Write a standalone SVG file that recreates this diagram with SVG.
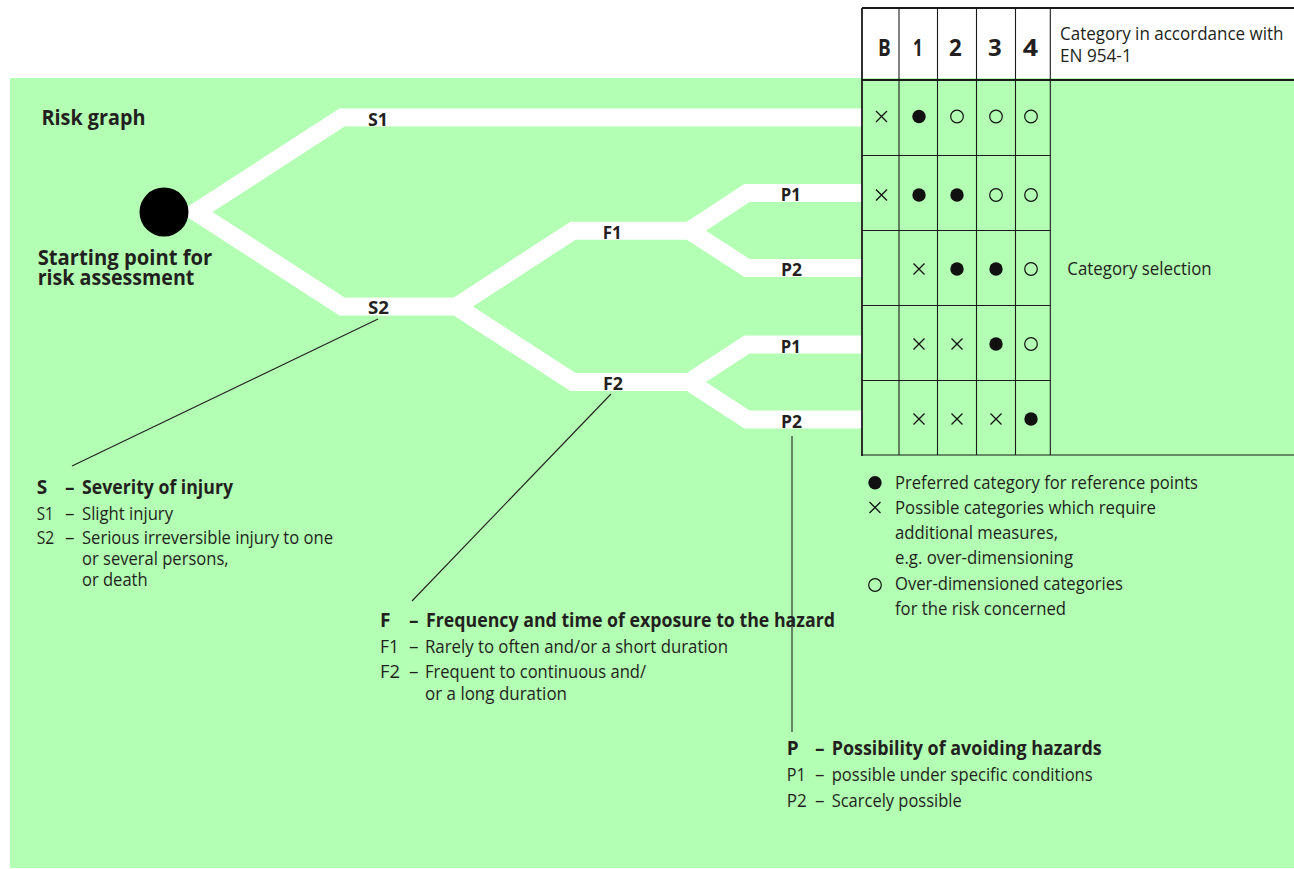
<svg xmlns="http://www.w3.org/2000/svg" width="1294" height="869" viewBox="0 0 1294 869">
<style>
text{font-family:"Open Sans","Noto Sans","Liberation Sans",sans-serif;fill:#231f20}
.b{font-weight:bold}
.t{font-size:19px}
.lbl{font-size:17.5px;font-weight:bold}
.h{font-size:22px;font-weight:bold}
.hd{font-size:23.5px;font-weight:bold;text-anchor:middle}
.band{fill:none;stroke:#fff;stroke-width:18;stroke-linejoin:miter;stroke-miterlimit:4}
.lead{fill:none;stroke:#231f20;stroke-width:1.1}
.grid{stroke:#1a1a1a;stroke-width:1.1;fill:none}
.outer{stroke:#1a1a1a;stroke-width:1.8;fill:none}
</style>
<defs>
<circle id="dot" r="6.7" fill="#111"/>
<circle id="ring" r="6.3" fill="none" stroke="#111" stroke-width="1.2"/>
<path id="x" d="M-5.5,-5.5L5.5,5.5M5.5,-5.5L-5.5,5.5" stroke="#111" stroke-width="1.3" fill="none"/>
</defs>
<rect width="1294" height="869" fill="#fff"/>
<rect x="10" y="78" width="1284" height="790" fill="#b3ffb3"/>

<g id="connectors">
<path class="band" d="M862,117.5 L342,117.5 L196,212 L342,306.5 L456.5,306.5"/>
<path class="band" d="M689.5,230.7 L573,230.7 L456.5,306.5 L573,382 L689.5,382"/>
<path class="band" d="M862,193 L747,193 L689.5,230.7 L747,268 L862,268"/>
<path class="band" d="M862,344.5 L747,344.5 L689.5,382 L747,419.5 L862,419.5"/>
<line class="lead" x1="378" y1="319" x2="72" y2="466"/>
<line class="lead" x1="611" y1="394" x2="412" y2="601"/>
<line class="lead" x1="792" y1="436" x2="792" y2="732"/>
</g>

<g id="title">
<text class="h" x="41.5" y="125" textLength="104" lengthAdjust="spacingAndGlyphs">Risk graph</text>
</g>

<g id="start">
<circle cx="164" cy="212" r="24.5" fill="#000"/>
<text class="h" x="37.7" y="265" textLength="174.6" lengthAdjust="spacingAndGlyphs">Starting point for</text>
<text class="h" x="37.7" y="285" textLength="156.6" lengthAdjust="spacingAndGlyphs">risk assessment</text>
</g>

<g id="node-S1"><text class="lbl" x="368" y="126" textLength="20" lengthAdjust="spacingAndGlyphs">S1</text></g>
<g id="node-S2"><text class="lbl" x="368" y="314" textLength="21" lengthAdjust="spacingAndGlyphs">S2</text></g>
<g id="node-F1"><text class="lbl" x="602.7" y="238.7" textLength="19" lengthAdjust="spacingAndGlyphs">F1</text></g>
<g id="node-F2"><text class="lbl" x="603" y="390" textLength="20" lengthAdjust="spacingAndGlyphs">F2</text></g>
<g id="node-P1a"><text class="lbl" x="780.7" y="200.7" textLength="20" lengthAdjust="spacingAndGlyphs">P1</text></g>
<g id="node-P2a"><text class="lbl" x="781" y="275.7" textLength="21" lengthAdjust="spacingAndGlyphs">P2</text></g>
<g id="node-P1b"><text class="lbl" x="780.7" y="352.7" textLength="20" lengthAdjust="spacingAndGlyphs">P1</text></g>
<g id="node-P2b"><text class="lbl" x="781" y="428.3" textLength="21" lengthAdjust="spacingAndGlyphs">P2</text></g>

<g id="table">
<line class="outer" x1="862" y1="8" x2="1294" y2="8"/>
<line class="outer" x1="862" y1="80" x2="1294" y2="80"/>
<line class="grid" x1="862" y1="455" x2="1294" y2="455"/>
<line class="outer" x1="862" y1="8" x2="862" y2="456"/>
<line class="grid" x1="899" y1="8" x2="899" y2="455"/>
<line class="grid" x1="937.5" y1="8" x2="937.5" y2="455"/>
<line class="grid" x1="976.5" y1="8" x2="976.5" y2="455"/>
<line class="grid" x1="1015.5" y1="8" x2="1015.5" y2="455"/>
<line class="grid" x1="1050.3" y1="8" x2="1050.3" y2="455" stroke-width="1.5"/>
<line class="grid" x1="862" y1="155.5" x2="1050.3" y2="155.5"/>
<line class="grid" x1="862" y1="230.5" x2="1050.3" y2="230.5"/>
<line class="grid" x1="862" y1="305.5" x2="1050.3" y2="305.5"/>
<line class="grid" x1="862" y1="380.5" x2="1050.3" y2="380.5"/>
<text class="hd" x="884.3" y="56" textLength="12.7" lengthAdjust="spacingAndGlyphs">B</text>
<text class="hd" x="917.8" y="56" textLength="9.7" lengthAdjust="spacingAndGlyphs">1</text>
<text class="hd" x="955.3" y="56" textLength="12.7" lengthAdjust="spacingAndGlyphs">2</text>
<text class="hd" x="994.8" y="56" textLength="13.7" lengthAdjust="spacingAndGlyphs">3</text>
<text class="hd" x="1030.3" y="56" textLength="15.3" lengthAdjust="spacingAndGlyphs">4</text>
<text class="t" x="1060" y="39.5" textLength="223.5" lengthAdjust="spacingAndGlyphs">Category in accordance with</text>
<text class="t" x="1060" y="62" textLength="71.7" lengthAdjust="spacingAndGlyphs">EN 954-1</text>
<text class="t" x="1067.3" y="275" textLength="144.4" lengthAdjust="spacingAndGlyphs">Category selection</text>
<use href="#x" x="881.5" y="116.5"/><use href="#dot" x="919" y="116.5"/><use href="#ring" x="957" y="116.5"/><use href="#ring" x="996" y="116.5"/><use href="#ring" x="1031" y="116.5"/>
<use href="#x" x="881.5" y="195"/><use href="#dot" x="919" y="195"/><use href="#dot" x="957" y="195"/><use href="#ring" x="996" y="195"/><use href="#ring" x="1031" y="195"/>
<use href="#x" x="919" y="269"/><use href="#dot" x="957" y="269"/><use href="#dot" x="996" y="269"/><use href="#ring" x="1031" y="269"/>
<use href="#x" x="919" y="344"/><use href="#x" x="957" y="344"/><use href="#dot" x="996" y="344"/><use href="#ring" x="1031" y="344"/>
<use href="#x" x="919" y="419"/><use href="#x" x="957" y="419"/><use href="#x" x="996" y="419"/><use href="#dot" x="1031" y="419"/>
</g>

<g id="legend-symbols">
<use href="#dot" x="875" y="482.7"/>
<text class="t" x="895" y="488.5" textLength="303" lengthAdjust="spacingAndGlyphs">Preferred category for reference points</text>
<use href="#x" x="875" y="507.5"/>
<text class="t" x="895" y="514" textLength="261" lengthAdjust="spacingAndGlyphs">Possible categories which require</text>
<text class="t" x="895" y="539" textLength="163" lengthAdjust="spacingAndGlyphs">additional measures,</text>
<text class="t" x="895" y="563.5" textLength="178" lengthAdjust="spacingAndGlyphs">e.g. over-dimensioning</text>
<use href="#ring" x="875" y="585"/>
<text class="t" x="895" y="589.5" textLength="228" lengthAdjust="spacingAndGlyphs">Over-dimensioned categories</text>
<text class="t" x="895" y="614.5" textLength="171" lengthAdjust="spacingAndGlyphs">for the risk concerned</text>
</g>

<g id="legend-S">
<text class="t b" x="36.7" y="493.5">S</text>
<text class="t b" x="65" y="493.5">–</text>
<text class="t b" x="82" y="493.5" textLength="151" lengthAdjust="spacingAndGlyphs">Severity of injury</text>
<text class="t" x="36.7" y="519.5" textLength="17" lengthAdjust="spacingAndGlyphs">S1</text>
<text class="t" x="65" y="519.5">–</text>
<text class="t" x="82" y="519.5" textLength="91" lengthAdjust="spacingAndGlyphs">Slight injury</text>
<text class="t" x="36.7" y="544.3" textLength="17.5" lengthAdjust="spacingAndGlyphs">S2</text>
<text class="t" x="65" y="544.3">–</text>
<text class="t" x="82" y="544.3" textLength="251" lengthAdjust="spacingAndGlyphs">Serious irreversible injury to one</text>
<text class="t" x="82" y="565" textLength="146.6" lengthAdjust="spacingAndGlyphs">or several persons,</text>
<text class="t" x="82" y="586" textLength="65.6" lengthAdjust="spacingAndGlyphs">or death</text>
</g>

<g id="legend-F">
<text class="t b" x="380" y="627.3">F</text>
<text class="t b" x="409" y="627.3">–</text>
<text class="t b" x="426" y="627.3" textLength="409" lengthAdjust="spacingAndGlyphs">Frequency and time of exposure to the hazard</text>
<text class="t" x="380" y="652.7" textLength="19" lengthAdjust="spacingAndGlyphs">F1</text>
<text class="t" x="409" y="652.7">–</text>
<text class="t" x="425" y="652.7" textLength="303" lengthAdjust="spacingAndGlyphs">Rarely to often and/or a short duration</text>
<text class="t" x="380" y="678" textLength="20" lengthAdjust="spacingAndGlyphs">F2</text>
<text class="t" x="409" y="678">–</text>
<text class="t" x="425" y="678" textLength="221" lengthAdjust="spacingAndGlyphs">Frequent to continuous and/</text>
<text class="t" x="425" y="700" textLength="142" lengthAdjust="spacingAndGlyphs">or a long duration</text>
</g>

<g id="legend-P">
<text class="t b" x="786.7" y="755">P</text>
<text class="t b" x="815" y="755">–</text>
<text class="t b" x="831.7" y="755" textLength="270" lengthAdjust="spacingAndGlyphs">Possibility of avoiding hazards</text>
<text class="t" x="786.7" y="781" textLength="19" lengthAdjust="spacingAndGlyphs">P1</text>
<text class="t" x="815" y="781">–</text>
<text class="t" x="831.7" y="781" textLength="261" lengthAdjust="spacingAndGlyphs">possible under specific conditions</text>
<text class="t" x="786.7" y="806.5" textLength="20" lengthAdjust="spacingAndGlyphs">P2</text>
<text class="t" x="815" y="806.5">–</text>
<text class="t" x="831.7" y="806.5" textLength="130" lengthAdjust="spacingAndGlyphs">Scarcely possible</text>
</g>
</svg>
